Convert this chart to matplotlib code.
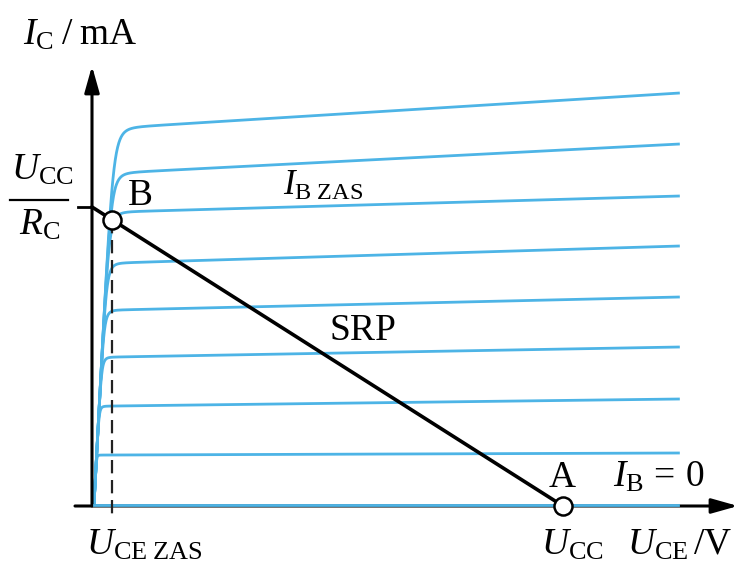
import numpy as np
import matplotlib
matplotlib.use("Agg")
import matplotlib.pyplot as plt

# ---- data (U_CE in V-like units, I_C in mA-like units) ----
U_CC = 10.0
I_MAX = 5.98            # U_CC / R_C
U_CE_SAT = 0.425        # U_CE ZAS
U_END = 12.44           # right end of characteristic curves
i_knee = [7.56, 6.66, 5.88, 4.86, 3.92, 2.98, 2.00, 1.02]
i_end = [8.26, 7.24, 6.20, 5.20, 4.18, 3.18, 2.14, 1.06]
i_zero = 0.03           # I_B = 0 curve

BLUE = "#4DB4E6"
plt.rcParams["mathtext.fontset"] = "custom"
plt.rcParams["mathtext.rm"] = "Liberation Serif"
plt.rcParams["mathtext.it"] = "Liberation Serif:italic"
plt.rcParams["font.family"] = "Liberation Serif"

W, H = 742, 570
fig = plt.figure(figsize=(W / 100, H / 100), dpi=100)
ax = fig.add_axes([0, 0, 1, 1])
SX, SY = 47.1, 50.0
OX, OY = 92, 506
ax.set_xlim((0 - OX) / SX, (W - OX) / SX)
ax.set_ylim((OY - H) / SY, (OY - 0) / SY)
ax.axis("off")

def P(x, y):
    return ((x - OX) / SX, (OY - y) / SY)

# characteristic curves
c = 0.0565
u = np.linspace(0.0, U_END, 2000)
for ik, ie in zip(i_knee, i_end):
    plat = ik + (ie - ik) * (u - 0.45) / (U_END - 0.45)
    n = 6
    rise = np.maximum(u / c, 1e-9)
    cur = (plat ** -n + rise ** -n) ** (-1.0 / n)
    ax.plot(u + 0.04, cur, color=BLUE, lw=2.0, solid_capstyle="butt", zorder=2)
ax.plot([0.04, U_END], [i_zero, i_zero], color=BLUE, lw=2.0, zorder=4)

# axes with arrows
ax.annotate("", xy=P(738, OY), xytext=P(75, OY),
            arrowprops=dict(arrowstyle="-|>,head_length=1.6,head_width=0.45",
                            color="black", lw=2.2, shrinkA=0, shrinkB=0), zorder=3)
ax.annotate("", xy=P(OX, 66), xytext=P(OX, OY),
            arrowprops=dict(arrowstyle="-|>,head_length=1.6,head_width=0.45",
                            color="black", lw=2.2, shrinkA=0, shrinkB=0), zorder=3)

# load line
ax.plot([0, U_CC], [I_MAX, 0], color="black", lw=2.6, zorder=5)
ax.plot([P(78, 0)[0], 0], [I_MAX, I_MAX], color="black", lw=2.0, zorder=5)
i_b = I_MAX * (1 - U_CE_SAT / U_CC)
# dashed line at U_CE ZAS
ax.plot([U_CE_SAT, U_CE_SAT], [i_b, P(0, 518)[1]], color="#222222", lw=1.6,
        dashes=(6, 3), zorder=5)
# points B and A
ax.plot([U_CE_SAT, U_CC], [i_b, 0], "o", ms=13, mfc="white", mec="black",
        mew=1.8, zorder=6)

FS = 27
def T(x, y, s, **kw):
    kw.setdefault("fontsize", FS)
    ax.text(*P(x, y), s, va="baseline", **kw)

T(23, 45, r"$I_{\mathrm{C}}\;/\;\mathrm{mA}$")
# fraction U_CC / R_C
T(42, 180, r"$U_{\mathrm{CC}}$", ha="center")
ax.plot([P(10, 0)[0], P(68, 0)[0]], [P(0, 200)[1]] * 2, color="black", lw=1.6)
T(40, 235, r"$R_{\mathrm{C}}$", ha="center")
T(128, 205, "B")
T(283, 195, r"$I_{\mathrm{B\ ZAS}}$", fontsize=25)
T(330, 340, "SRP")
T(549, 487, "A")
T(613, 487, r"$I_{\mathrm{B}}\,=\,0$")
T(86, 555, r"$U_{\mathrm{CE\ ZAS}}$")
T(541, 555, r"$U_{\mathrm{CC}}$")
T(627, 555, r"$U_{\mathrm{CE}}\,/\mathrm{V}$")

fig.savefig("out.png", dpi=100, facecolor="white")
